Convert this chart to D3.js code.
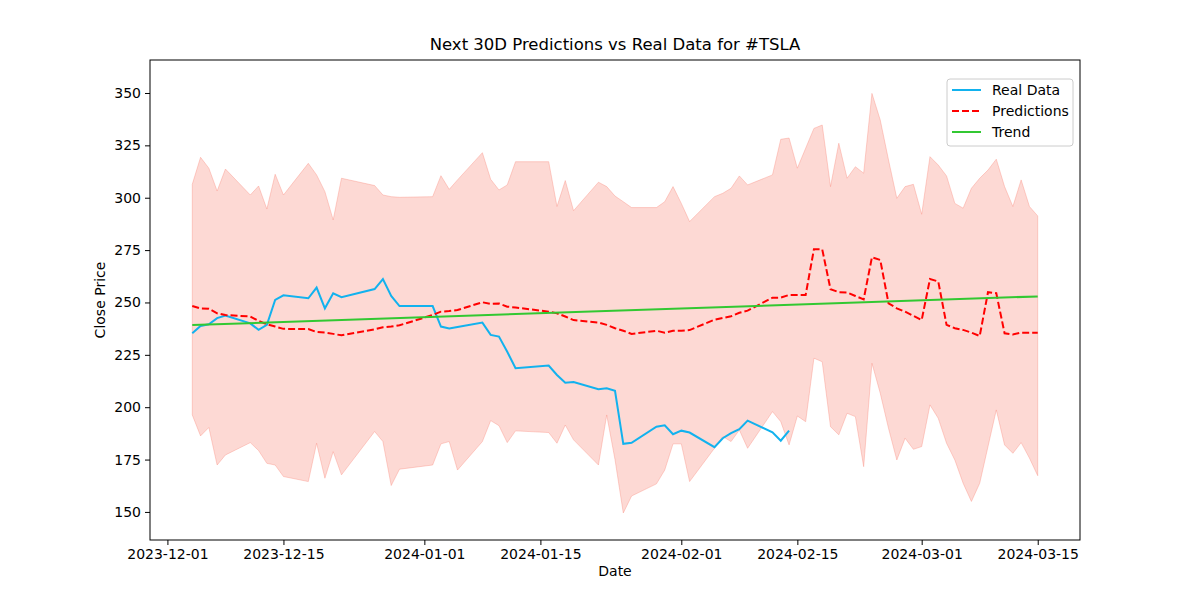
<!DOCTYPE html>
<html>
<head>
<meta charset="utf-8">
<script src="https://cdn.jsdelivr.net/npm/d3@7"></script>
<style>
  body { margin: 0; background: #fff; }
  text { font-family: "DejaVu Sans", sans-serif; fill: #000; }
</style>
</head>
<body>
<script>
// dates: trading days for the history part, calendar days for the 30 day forecast
var histDates = ["2023-12-04","2023-12-05","2023-12-06","2023-12-07","2023-12-08",
  "2023-12-11","2023-12-12","2023-12-13","2023-12-14","2023-12-15",
  "2023-12-18","2023-12-19","2023-12-20","2023-12-21","2023-12-22",
  "2023-12-26","2023-12-27","2023-12-28","2023-12-29",
  "2024-01-02","2024-01-03","2024-01-04","2024-01-05",
  "2024-01-08","2024-01-09","2024-01-10","2024-01-11","2024-01-12",
  "2024-01-16","2024-01-17","2024-01-18","2024-01-19",
  "2024-01-22","2024-01-23","2024-01-24","2024-01-25","2024-01-26",
  "2024-01-29","2024-01-30","2024-01-31","2024-02-01","2024-02-02",
  "2024-02-05","2024-02-06","2024-02-07","2024-02-08","2024-02-09",
  "2024-02-12","2024-02-13","2024-02-14"];
var forecastDates = ["2024-02-15","2024-02-16","2024-02-17","2024-02-18","2024-02-19",
  "2024-02-20","2024-02-21","2024-02-22","2024-02-23","2024-02-24","2024-02-25",
  "2024-02-26","2024-02-27","2024-02-28","2024-02-29","2024-03-01","2024-03-02",
  "2024-03-03","2024-03-04","2024-03-05","2024-03-06","2024-03-07","2024-03-08",
  "2024-03-09","2024-03-10","2024-03-11","2024-03-12","2024-03-13","2024-03-14","2024-03-15"];

var realData = [235.3,238.8,239.6,242.5,243.8, 240.0,236.9,239.3,251.2,253.4,
  252.0,257.1,247.2,254.4,252.5, 256.4,261.2,253.1,248.3, 248.3,238.5,237.6,238.3,
  240.4,234.5,233.7,226.5,218.6, 219.9,215.4,211.7,212.0, 208.6,209.0,207.8,182.5,183.0,
  190.7,191.4,187.1,188.8,187.9, 180.9,185.2,187.6,189.5,193.6, 188.0,184.0,188.8];

var predictions = [248.3,247.1,247.0,244.8,244.0, 243.3,241.2,239.6,238.5,237.4,
  237.3,235.9,235.6,235.0,234.3, 237.2,238.2,238.5,239.1, 244.0,245.6,245.9,246.4,
  250.1,249.3,249.5,248.0,247.6, 245.6,244.8,243.3,241.6, 240.4,239.3,237.7,236.5,235.0,
  236.5,235.6,236.5,236.5,236.8, 241.8,242.6,243.4,245.1,246.1, 252.3,252.3,253.6,
  253.6,253.6,275.4,275.4,256.3,254.9,254.8,253.1,251.5,271.6,270.3,249.6,247.2,245.6,
  243.6,241.6,261.2,260.0,239.3,237.7,236.9,235.6,234.0,254.9,254.4,235.3,234.7,235.6,235.6,235.6];

var upperBand = [306.4,319.3,314.1,303.2,313.7, 301.3,305.6,294.6,311.2,301.3,
  316.4,310.9,302.9,289.4,309.3, 305.8,301.3,300.5,300.2, 300.5,310.5,304.0,308.5,
  321.5,308.8,303.7,306.1,317.2, 317.2,295.8,308.2,293.8, 307.4,305.3,300.8,298.1,295.3,
  295.3,298.1,305.3,297.3,288.6, 300.5,302.1,304.5,310.4,306.1, 310.9,327.9,328.5,
  314.1,323.6,333.1,334.7,305.3,326.0,309.3,314.8,311.7,349.8,337.1,318.0,299.7,305.3,
  306.4,292.1,319.6,315.6,310.4,297.3,295.0,304.5,309.3,313.2,318.4,305.3,295.8,308.5,295.8,291.3];

var lowerBand = [196.3,186.3,190.3,172.4,177.2, 183.1,179.3,173.2,172.4,166.9,
  164.5,182.8,166.1,178.8,167.7, 188.4,183.6,162.6,170.4, 172.4,182.5,183.6,170.0,
  183.6,193.6,191.2,183.1,188.7, 187.9,182.8,191.5,184.4, 172.4,196.3,175.0,149.5,157.6,
  163.4,170.0,182.5,182.5,164.5, 180.4,186.0,183.6,189.1,180.4, 197.9,193.1,182.0,
  195.8,193.1,223.4,221.7,190.7,186.8,197.1,195.5,171.6,221.0,206.7,189.9,174.8,185.2,
  179.9,181.2,201.1,194.7,182.8,174.8,163.7,155.0,163.7,181.2,198.7,182.0,178.0,183.1,175.7,167.3];

var trendEnds = [239.2, 252.9];

var xTickLabels = ["2023-12-01","2023-12-15","2024-01-01","2024-01-15","2024-02-01","2024-02-15","2024-03-01","2024-03-15"];
var yTicks = [150, 175, 200, 225, 250, 275, 300, 325, 350];

var parse = d3.timeParse("%Y-%m-%d");
var allDates = histDates.concat(forecastDates).map(parse);

var width = 1200, height = 600;
var margin = {top: 60, right: 120, bottom: 60, left: 150};

var svg = d3.select("body").append("svg")
  .attr("width", width).attr("height", height);

var first = allDates[0], last = allDates[allDates.length - 1];
var pad = (last - first) * 0.05;
var x = d3.scaleTime()
  .domain([new Date(+first - pad), new Date(+last + pad)])
  .range([margin.left, width - margin.right]);
var y = d3.scaleLinear()
  .domain([136.6, 365.75])
  .range([height - margin.bottom, margin.top]);

// confidence band
var band = d3.area()
  .x(function(d, i) { return x(allDates[i]); })
  .y0(function(d, i) { return y(lowerBand[i]); })
  .y1(function(d) { return y(d); });
svg.append("path")
  .datum(upperBand)
  .attr("d", band)
  .attr("fill", "#fa8072").attr("fill-opacity", 0.3)
  .attr("stroke", "#fa8072").attr("stroke-opacity", 0.35).attr("stroke-width", 1);

var line = d3.line()
  .x(function(d, i) { return x(allDates[i]); })
  .y(function(d) { return y(d); });

svg.append("path").datum(realData).attr("d", line)
  .attr("fill", "none").attr("stroke", "#12b2ee").attr("stroke-width", 2);

svg.append("path").datum(predictions).attr("d", line)
  .attr("fill", "none").attr("stroke", "#f00").attr("stroke-width", 2)
  .attr("stroke-dasharray", "7,3");

svg.append("path")
  .datum([[first, trendEnds[0]], [last, trendEnds[1]]])
  .attr("d", d3.line().x(function(d) { return x(d[0]); }).y(function(d) { return y(d[1]); }))
  .attr("fill", "none").attr("stroke", "#32c832").attr("stroke-width", 2);

// axes
var xAxis = d3.axisBottom(x)
  .tickValues(xTickLabels.map(parse))
  .tickFormat(d3.timeFormat("%Y-%m-%d"))
  .tickSize(5).tickPadding(4);
var yAxis = d3.axisLeft(y).tickValues(yTicks).tickSize(5).tickPadding(4);

var gx = svg.append("g")
  .attr("transform", "translate(0," + (height - margin.bottom) + ")")
  .call(xAxis);
var gy = svg.append("g")
  .attr("transform", "translate(" + margin.left + ",0)")
  .call(yAxis);
[gx, gy].forEach(function(g) {
  g.select(".domain").remove();
  g.selectAll("text").attr("font-size", 14).attr("font-family", "DejaVu Sans");
  g.selectAll("line").attr("stroke", "#000");
});

svg.append("rect")
  .attr("x", margin.left).attr("y", margin.top)
  .attr("width", width - margin.left - margin.right)
  .attr("height", height - margin.top - margin.bottom)
  .attr("fill", "none").attr("stroke", "#000").attr("stroke-width", 1);

svg.append("text").attr("x", (margin.left + width - margin.right) / 2).attr("y", 50)
  .attr("text-anchor", "middle").attr("font-size", 16.5)
  .text("Next 30D Predictions vs Real Data for #TSLA");
svg.append("text").attr("x", (margin.left + width - margin.right) / 2).attr("y", 576)
  .attr("text-anchor", "middle").attr("font-size", 14).text("Date");
svg.append("text")
  .attr("transform", "translate(105," + (height / 2) + ") rotate(-90)")
  .attr("text-anchor", "middle").attr("font-size", 14).text("Close Price");

// legend
var legendItems = [
  {label: "Real Data", color: "#12b2ee", dash: null},
  {label: "Predictions", color: "#f00", dash: "7,3"},
  {label: "Trend", color: "#32c832", dash: null}
];
var lg = svg.append("g").attr("transform", "translate(947,79)");
lg.append("rect").attr("width", 126).attr("height", 67).attr("rx", 3)
  .attr("fill", "#fff").attr("fill-opacity", 0.8).attr("stroke", "#ccc");
legendItems.forEach(function(d, i) {
  var cy = 11 + i * 21;
  lg.append("line").attr("x1", 5).attr("x2", 34).attr("y1", cy).attr("y2", cy)
    .attr("stroke", d.color).attr("stroke-width", 2).attr("stroke-dasharray", d.dash);
  lg.append("text").attr("x", 45).attr("y", cy + 5).attr("font-size", 14).text(d.label);
});
</script>
</body>
</html>
